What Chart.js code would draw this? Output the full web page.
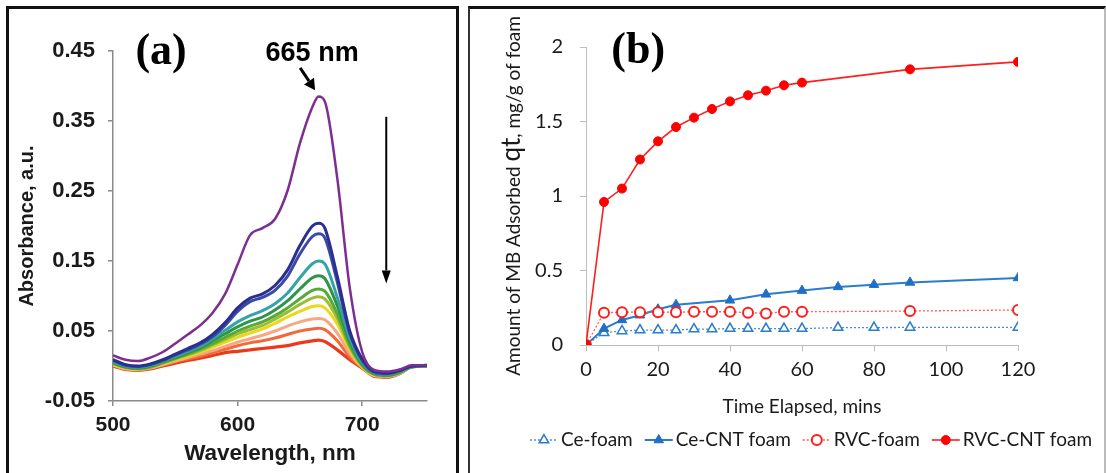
<!DOCTYPE html>
<html>
<head>
<meta charset="utf-8">
<script src="https://cdn.jsdelivr.net/npm/chart.js@4.4.1/dist/chart.umd.min.js"></script>
<style>
  html, body { margin:0; padding:0; background:#fff; }
  #wrap { position:relative; width:1106px; height:473px; overflow:hidden; background:#fff; }
  canvas { position:absolute; top:0; }
  #chartA { left:0; }
  #chartB { left:470px; }
  .frame { position:absolute; pointer-events:none; box-sizing:border-box; }
  #frameA { left:6px; top:6px; width:453px; height:480px; border:3px solid #111; border-bottom:none; }
  #frameB { left:468px; top:6px; width:638px; height:480px; border-top:3px solid #111; border-left:2px solid #333; border-right:2px solid #bbb; }
</style>
</head>
<body>
<div id="wrap">
  <canvas id="chartA" width="460" height="473"></canvas>
  <canvas id="chartB" width="636" height="473"></canvas>
  <div class="frame" id="frameA"></div>
  <div class="frame" id="frameB"></div>
</div>
<script>
// ---- panel (a): UV-vis spectra ----
const wavelengths = [500,510,520,530,540,550,560,570,580,590,600,610,620,630,640,650,660,665,670,680,690,700,710,720,730,740,752];

const absPurple = [0.015,0.009,0.007,0.012,0.020,0.032,0.045,0.058,0.076,0.103,0.145,0.187,0.197,0.210,0.250,0.318,0.370,0.385,0.378,0.268,0.112,0.020,-0.006,-0.008,-0.005,0.001,0.001];
const absNavy   = [0.009,0.002,0.000,0.003,0.009,0.017,0.025,0.033,0.045,0.062,0.083,0.097,0.103,0.115,0.137,0.172,0.200,0.204,0.197,0.128,0.050,0.010,-0.008,-0.010,-0.006,0.000,0.001];
const absBlue   = [0.008,0.001,-0.001,0.002,0.008,0.016,0.023,0.031,0.042,0.058,0.078,0.092,0.098,0.108,0.128,0.160,0.185,0.189,0.183,0.120,0.047,0.008,-0.009,-0.011,-0.007,0.000,0.001];
const absTeal   = [0.006,0.000,-0.002,0.001,0.007,0.014,0.021,0.028,0.039,0.051,0.063,0.072,0.079,0.089,0.104,0.126,0.146,0.150,0.146,0.098,0.040,0.005,-0.010,-0.012,-0.008,-0.001,0.000];
const absGreen  = [0.005,-0.001,-0.003,0.000,0.006,0.012,0.019,0.026,0.036,0.046,0.056,0.064,0.070,0.080,0.093,0.110,0.126,0.129,0.125,0.086,0.035,0.003,-0.011,-0.013,-0.009,-0.001,0.000];
const absGreen2 = [0.004,-0.002,-0.004,-0.001,0.005,0.011,0.017,0.024,0.032,0.041,0.050,0.057,0.063,0.072,0.083,0.096,0.108,0.110,0.107,0.075,0.030,0.001,-0.012,-0.014,-0.009,-0.001,0.000];
const absOlive  = [0.003,-0.002,-0.004,-0.002,0.004,0.010,0.016,0.022,0.030,0.038,0.046,0.052,0.058,0.067,0.077,0.088,0.097,0.099,0.096,0.068,0.027,0.000,-0.012,-0.014,-0.010,-0.001,0.000];
const absYellow = [0.002,-0.003,-0.005,-0.002,0.003,0.009,0.014,0.020,0.027,0.034,0.041,0.047,0.053,0.061,0.070,0.078,0.085,0.086,0.083,0.060,0.024,-0.001,-0.013,-0.014,-0.010,-0.001,0.000];
const absPeach  = [0.001,-0.004,-0.005,-0.003,0.002,0.007,0.012,0.017,0.022,0.028,0.034,0.039,0.044,0.050,0.057,0.063,0.067,0.068,0.066,0.047,0.018,-0.002,-0.014,-0.015,-0.011,-0.001,0.000];
const absOrange = [0.001,-0.004,-0.006,-0.003,0.001,0.006,0.010,0.014,0.019,0.024,0.029,0.033,0.036,0.040,0.045,0.050,0.053,0.054,0.052,0.036,0.013,-0.002,-0.014,-0.015,-0.011,-0.001,0.000];
const absRed    = [0.000,-0.005,-0.006,-0.004,0.000,0.004,0.008,0.011,0.015,0.019,0.021,0.023,0.025,0.027,0.029,0.033,0.036,0.037,0.035,0.023,0.009,-0.003,-0.015,-0.016,-0.011,-0.001,0.000];

const spectra = [
  { data: absPurple, color: '#7d2e90', width: 2.5 },
  { data: absNavy,   color: '#2c2f8e', width: 3 },
  { data: absBlue,   color: '#3b49a8', width: 3 },
  { data: absTeal,   color: '#36a3a8', width: 3 },
  { data: absGreen,  color: '#2f9546', width: 3 },
  { data: absGreen2, color: '#55aa38', width: 3 },
  { data: absOlive,  color: '#9cbc34', width: 3 },
  { data: absYellow, color: '#ead81c', width: 3 },
  { data: absPeach,  color: '#f6a882', width: 3 },
  { data: absOrange, color: '#f26a3c', width: 3 },
  { data: absRed,    color: '#ea3a1c', width: 3.2 }
];

const xTicksA = [500, 600, 700];
const yTicksA = [-0.05, 0.05, 0.15, 0.25, 0.35, 0.45];

// annotation anchors in data units (wavelength, absorbance)
const labelA = [538.6, 0.447];
const peakText = [659.8, 0.447];
const peakArrow = [[650.2, 0.426], [662.2, 0.394]];
const dropArrow = [[719.3, 0.356], [719.3, 0.118]];

// ---- panel (b): adsorption kinetics ----
const tCeFoam  = [0,5,10,15,20,25,30,35,40,45,50,55,60,70,80,90,120];
const qCeFoam  = [0,0.083,0.094,0.100,0.100,0.100,0.107,0.107,0.110,0.110,0.110,0.110,0.110,0.117,0.117,0.118,0.118];
const tCeCnt   = [0,5,10,15,20,25,40,50,60,70,80,90,120];
const qCeCnt   = [0,0.11,0.168,0.20,0.24,0.27,0.30,0.34,0.365,0.39,0.405,0.42,0.45];
const tRvcFoam = [0,5,10,15,20,25,30,35,40,45,50,55,60,90,120];
const qRvcFoam = [0,0.217,0.220,0.220,0.220,0.220,0.223,0.223,0.223,0.217,0.212,0.223,0.223,0.228,0.235];
const tRvcCnt  = [0,5,10,15,20,25,30,35,40,45,50,55,60,90,120];
const qRvcCnt  = [0,0.96,1.05,1.245,1.367,1.463,1.526,1.584,1.635,1.676,1.707,1.743,1.761,1.85,1.90];

const xTicksB = [0, 20, 40, 60, 80, 100, 120];
const yTicksB = [0, 0.5, 1, 1.5, 2];
const labelB = [14.5, 1.967];

Chart.defaults.animation = false;

function pts(xs, ys){ return xs.map((x, i) => ({ x: x, y: ys[i] })); }

function arrow(ctx, x1, y1, x2, y2, w, head, headW){
  const a = Math.atan2(y2 - y1, x2 - x1);
  const bx = x2 - Math.cos(a) * head, by = y2 - Math.sin(a) * head;
  ctx.lineWidth = w;
  ctx.beginPath(); ctx.moveTo(x1, y1); ctx.lineTo(bx, by); ctx.stroke();
  ctx.beginPath();
  ctx.moveTo(x2, y2);
  ctx.lineTo(bx + Math.sin(a) * headW / 2, by - Math.cos(a) * headW / 2);
  ctx.lineTo(bx - Math.sin(a) * headW / 2, by + Math.cos(a) * headW / 2);
  ctx.closePath(); ctx.fill();
}

const annotA = {
  id: 'annotA',
  afterDraw(chart){
    const { ctx } = chart;
    const x = chart.scales.x, y = chart.scales.y;
    const px = p => [x.getPixelForValue(p[0]), y.getPixelForValue(p[1])];
    ctx.save();
    ctx.fillStyle = '#000'; ctx.strokeStyle = '#000';
    ctx.textAlign = 'center'; ctx.textBaseline = 'middle';
    ctx.font = 'bold 44px "Liberation Serif", "Times New Roman", serif';
    let p = px(labelA); ctx.fillText('(a)', p[0], p[1]);
    ctx.font = 'bold 27px "Liberation Sans", Arial, sans-serif';
    p = px(peakText); ctx.fillText('665 nm', p[0], p[1]);
    let a = px(peakArrow[0]), b = px(peakArrow[1]);
    arrow(ctx, a[0], a[1], b[0], b[1], 3, 11, 12);
    a = px(dropArrow[0]); b = px(dropArrow[1]);
    arrow(ctx, a[0], a[1], b[0], b[1], 2, 13, 9);
    ctx.restore();
  }
};

const fontA = '"Liberation Sans", Arial, sans-serif';

new Chart(document.getElementById('chartA'), {
  type: 'line',
  data: {
    datasets: spectra.map(s => ({
      data: pts(wavelengths, s.data),
      borderColor: s.color,
      borderWidth: s.width,
      pointRadius: 0,
      cubicInterpolationMode: 'monotone',
      fill: false
    }))
  },
  options: {
    responsive: false,
    devicePixelRatio: 1,
    layout: { padding: { left: 0, top: 51, right: 33, bottom: 0 } },
    plugins: { legend: { display: false }, tooltip: { enabled: false } },
    scales: {
      x: {
        type: 'linear', min: 500, max: 752,
        afterBuildTicks: s => { s.ticks = xTicksA.map(v => ({ value: v })); },
        afterFit: s => { s.height = 72; },
        border: { display: true, color: '#8a8a8a', width: 1.5 },
        grid: { drawOnChartArea: false, drawTicks: true, tickLength: 5, color: '#8a8a8a', lineWidth: 1.5 },
        ticks: { font: { family: fontA, weight: 'bold', size: 21 }, color: '#1a1a1a', padding: 7, maxRotation: 0 },
        title: { display: true, text: 'Wavelength, nm', color: '#1a1a1a',
                 font: { family: fontA, weight: 'bold', size: 22.5 }, padding: { top: 0, bottom: 6 } }
      },
      y: {
        type: 'linear', min: -0.05, max: 0.45,
        afterBuildTicks: s => { s.ticks = yTicksA.map(v => ({ value: v })); },
        afterFit: s => { s.width = 113; },
        border: { display: true, color: '#8a8a8a', width: 1.5 },
        grid: { drawOnChartArea: false, drawTicks: true, tickLength: 5, color: '#8a8a8a', lineWidth: 1.5 },
        ticks: { font: { family: fontA, weight: 'bold', size: 22 }, color: '#1a1a1a', padding: 13,
                 callback: v => v.toFixed(2) },
        title: { display: true, text: 'Absorbance, a.u.', color: '#1a1a1a',
                 font: { family: fontA, weight: 'bold', size: 20 }, padding: { top: 15, bottom: 0 } }
      }
    }
  },
  plugins: [annotA]
});

// ---- panel (b) ----
function marker(ctx, style, r, x, y){
  ctx.beginPath();
  if (style === 'triangle'){
    for (let k = 0; k < 3; k++){
      const ang = k * 2 * Math.PI / 3;
      const mx = x + Math.sin(ang) * r, my = y - Math.cos(ang) * r;
      if (k === 0) ctx.moveTo(mx, my); else ctx.lineTo(mx, my);
    }
    ctx.closePath();
  } else {
    ctx.arc(x, y, r, 0, Math.PI * 2);
  }
  ctx.fill(); ctx.stroke();
}

const fontB = 'Lato, "Open Sans", sans-serif';

const extrasB = {
  id: 'extrasB',
  afterDraw(chart, args, opts){
    const { ctx, chartArea } = chart;
    const x = chart.scales.x, y = chart.scales.y;
    ctx.save();
    // panel label
    ctx.fillStyle = '#000';
    ctx.textAlign = 'center'; ctx.textBaseline = 'middle';
    ctx.font = 'bold 44px "Liberation Serif", "Times New Roman", serif';
    ctx.fillText('(b)', x.getPixelForValue(labelB[0]), y.getPixelForValue(labelB[1]));

    // y title with larger "qt"
    const parts = [
      { text: 'Amount of MB Adsorbed ', font: '19px ' + fontB },
      { text: 'qt', font: '26px ' + fontB },
      { text: ', mg/g of foam', font: '19px ' + fontB }
    ];
    const cy = (chartArea.top + chartArea.bottom) / 2;
    ctx.translate(opts.titleX, cy);
    ctx.rotate(-Math.PI / 2);
    ctx.textAlign = 'left'; ctx.textBaseline = 'alphabetic';
    ctx.fillStyle = '#1a1a1a';
    const ws = parts.map(q => { ctx.font = q.font; return ctx.measureText(q.text).width; });
    let u = -ws.reduce((s, w) => s + w, 0) / 2;
    parts.forEach((q, i) => { ctx.font = q.font; ctx.fillText(q.text, u, 0); u += ws[i]; });
    ctx.setTransform(1, 0, 0, 1, 0, 0);

    // legend: line segment with marker, then label
    ctx.font = '19px ' + fontB;
    ctx.textBaseline = 'middle';
    const seg = 28, gapText = 3, gapItem = 12;
    const items = chart.data.datasets.map(ds => ({ ds: ds, w: ctx.measureText(ds.label).width }));
    const total = items.reduce((s, it) => s + seg + gapText + it.w, 0) + gapItem * (items.length - 1);
    let lx = opts.legendCenter - total / 2;
    const ly = opts.legendY;
    items.forEach(it => {
      const ds = it.ds;
      ctx.strokeStyle = ds.borderColor; ctx.lineWidth = ds.borderWidth;
      ctx.setLineDash(ds.borderDash || []);
      ctx.beginPath(); ctx.moveTo(lx, ly); ctx.lineTo(lx + seg, ly); ctx.stroke();
      ctx.setLineDash([]);
      ctx.fillStyle = ds.pointBackgroundColor; ctx.strokeStyle = ds.pointBorderColor;
      ctx.lineWidth = ds.pointBorderWidth;
      marker(ctx, ds.pointStyle, ds.pointRadius, lx + seg / 2, ly);
      ctx.fillStyle = '#1a1a1a';
      ctx.textAlign = 'left';
      ctx.fillText(ds.label, lx + seg + gapText, ly);
      lx += seg + gapText + it.w + gapItem;
    });
    ctx.restore();
  }
};

new Chart(document.getElementById('chartB'), {
  type: 'line',
  data: {
    datasets: [
      { label: 'Ce-foam', data: pts(tCeFoam, qCeFoam), order: 4,
        borderColor: '#4a8fd6', borderWidth: 1.3, borderDash: [2, 2],
        pointStyle: 'triangle', pointRadius: 5.5, pointBorderWidth: 1.5,
        pointBackgroundColor: '#ffffff', pointBorderColor: '#2a7ccc' },
      { label: 'Ce-CNT foam', data: pts(tCeCnt, qCeCnt), order: 3,
        borderColor: '#2a7ccc', borderWidth: 2,
        pointStyle: 'triangle', pointRadius: 5.5, pointBorderWidth: 1,
        pointBackgroundColor: '#1f6fc4', pointBorderColor: '#1f6fc4' },
      { label: 'RVC-foam', data: pts(tRvcFoam, qRvcFoam), order: 2,
        borderColor: '#ff5a5a', borderWidth: 1.3, borderDash: [2, 2],
        pointStyle: 'circle', pointRadius: 5, pointBorderWidth: 2,
        pointBackgroundColor: '#ffffff', pointBorderColor: '#ff1e1e' },
      { label: 'RVC-CNT foam', data: pts(tRvcCnt, qRvcCnt), order: 1,
        borderColor: '#ff1e1e', borderWidth: 1.6,
        pointStyle: 'circle', pointRadius: 4.5, pointBorderWidth: 1,
        pointBackgroundColor: '#ff0000', pointBorderColor: '#ff0000' }
    ]
  },
  options: {
    responsive: false,
    devicePixelRatio: 1,
    layout: { padding: { left: 0, top: 47, right: 88, bottom: 53 } },
    elements: { line: { tension: 0 } },
    plugins: {
      legend: { display: false }, tooltip: { enabled: false },
      extrasB: { titleX: 50, legendCenter: 341, legendY: 440 }
    },
    scales: {
      x: {
        type: 'linear', min: 0, max: 120,
        afterBuildTicks: s => { s.ticks = xTicksB.map(v => ({ value: v })); },
        afterFit: s => { s.height = 75; },
        border: { display: true, color: '#bdbdbd', width: 1 },
        grid: { drawOnChartArea: false, drawTicks: true, tickLength: 6, color: '#bdbdbd' },
        ticks: { font: { family: fontB, size: 20 }, color: '#1a1a1a', padding: 7, maxRotation: 0 },
        title: { display: true, text: 'Time Elapsed, mins', color: '#1a1a1a',
                 font: { family: fontB, size: 19 }, padding: { top: 0, bottom: 2 } }
      },
      y: {
        type: 'linear', min: 0, max: 2,
        afterBuildTicks: s => { s.ticks = yTicksB.map(v => ({ value: v })); },
        afterFit: s => { s.width = 116; },
        border: { display: true, color: '#bdbdbd', width: 1 },
        grid: { drawOnChartArea: false, drawTicks: true, tickLength: 6, color: '#bdbdbd' },
        ticks: { font: { family: fontB, size: 20 }, color: '#1a1a1a', padding: 17,
                 callback: v => String(v) }
      }
    }
  },
  plugins: [extrasB]
});
</script>
</body>
</html>
